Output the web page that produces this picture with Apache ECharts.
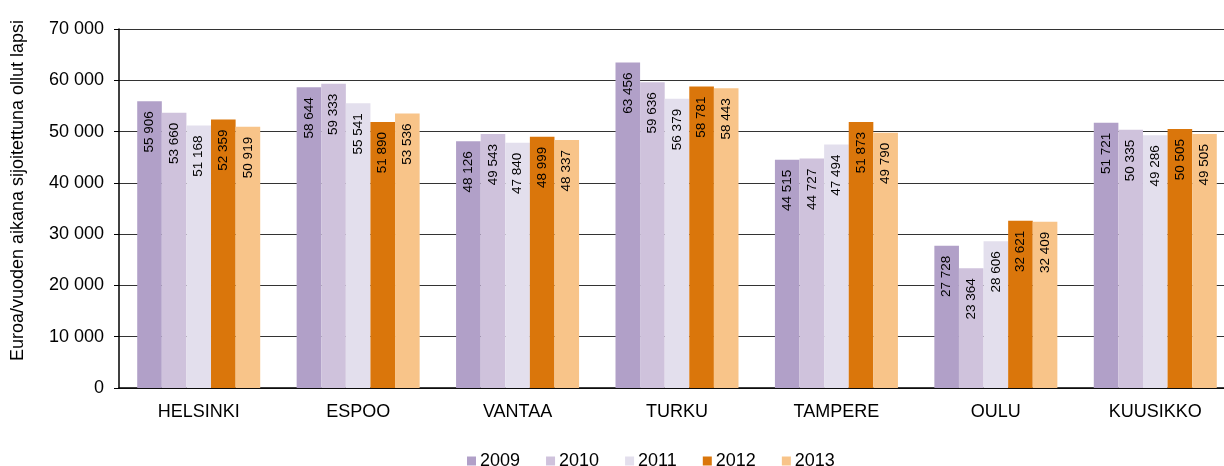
<!DOCTYPE html>
<html>
<head>
<meta charset="utf-8">
<script src="https://cdn.jsdelivr.net/npm/echarts@6/dist/echarts.min.js"></script>
<style>
  html, body { margin: 0; padding: 0; background: #fff; }
  #chart { width: 1224px; height: 466px; }
</style>
</head>
<body>
<div id="chart"></div>
<script>
// kaupungit ja vuodet
const cities = ['HELSINKI', 'ESPOO', 'VANTAA', 'TURKU', 'TAMPERE', 'OULU', 'KUUSIKKO'];
const years = ['2009', '2010', '2011', '2012', '2013'];
const v2009 = [55906, 58644, 48126, 63456, 44515, 27728, 51721];
const v2010 = [53660, 59333, 49543, 59636, 44727, 23364, 50335];
const v2011 = [51168, 55541, 47840, 56379, 47494, 28606, 49286];
const v2012 = [52359, 51890, 48999, 58781, 51873, 32621, 50505];
const v2013 = [50919, 53536, 48337, 58443, 49790, 32409, 49505];
const yearColors = ['#b1a0c8', '#cfc2dc', '#e3dfed', '#da760b', '#f8c489'];

const values = [v2009, v2010, v2011, v2012, v2013];

// luku muotoon "55 906"
function fmt(n) {
  return String(n).replace(/\B(?=(\d{3})+(?!\d))/g, ' ');
}

const chart = echarts.init(document.getElementById('chart'));
chart.setOption({
  animation: false,
  textStyle: { fontFamily: 'Liberation Sans, Arial, sans-serif', color: '#000' },
  grid: { left: 119, width: 1116, top: 29, bottom: 78, outerBoundsMode: 'none', containLabel: false },
  legend: {
    bottom: -9,
    left: 462,
    itemWidth: 9,
    itemHeight: 9,
    itemGap: 26,
    icon: 'rect',
    textStyle: { fontSize: 18, color: '#000', padding: [0, 0, 0, -1] },
    data: years
  },
  xAxis: {
    type: 'category',
    data: cities,
    axisLine: { lineStyle: { color: '#000', width: 1.5 } },
    axisTick: { show: false },
    axisLabel: { fontSize: 18, color: '#000', margin: 15 }
  },
  yAxis: {
    type: 'value',
    min: 0,
    max: 70000,
    interval: 10000,
    name: 'Euroa/vuoden aikana sijoitettuna ollut lapsi',
    nameLocation: 'middle',
    nameGap: 92,
    nameTextStyle: { fontSize: 18, color: '#000', padding: [0, 0, 0, 36] },
    axisLine: { show: true, lineStyle: { color: '#000', width: 1.5 } },
    axisTick: { show: true, length: 5, lineStyle: { color: '#000' } },
    axisLabel: { fontSize: 18, color: '#000', margin: 15, formatter: v => fmt(v) },
    splitLine: { lineStyle: { color: '#333', width: 1.2 } }
  },
  series: years.map((y, i) => ({
    name: y,
    type: 'bar',
    data: values[i],
    barWidth: 24.6,
    barGap: '0%',
    itemStyle: { color: yearColors[i] },
    label: {
      show: true,
      position: 'insideTop',
      rotate: 90,
      align: 'right',
      verticalAlign: 'middle',
      distance: 10,
      fontSize: 13.5,
      color: '#000',
      formatter: p => fmt(p.value)
    }
  }))
});
</script>
</body>
</html>
